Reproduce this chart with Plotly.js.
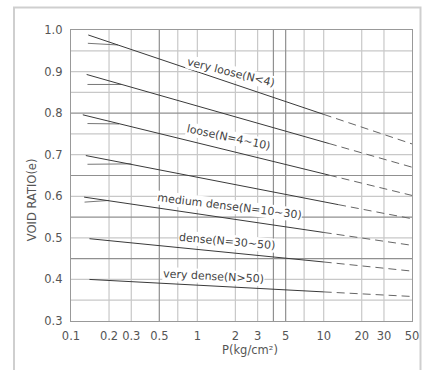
<!DOCTYPE html>
<html>
<head>
<meta charset="utf-8">
<script src="https://cdn.plot.ly/plotly-3.0.1.min.js"></script>
<style>html,body{margin:0;padding:0;background:#fff;}#chart{width:434px;height:370px;}</style>
</head>
<body>
<div id="chart"></div>
<script>
// ---- data ----
var xTickVals = [0.1, 0.2, 0.3, 0.5, 1, 2, 3, 5, 10, 20, 30, 50];
var xTickText = ['0.1', '0.2', '0.3', '0.5', '1', '2', '3', '5', '10', '20', '30', '50'];
var yTickVals = [0.3, 0.4, 0.5, 0.6, 0.7, 0.8, 0.9, 1.0];
var xGridLight = [0.2, 0.3, 0.7, 1, 2, 3, 7, 10, 20, 30];
var xGridDark = [0.5, 4, 5];
var yGridLight = [0.35, 0.4, 0.5, 0.6, 0.7, 0.75, 0.85, 0.9, 0.95];
var yGridDark = [0.45, 0.55, 0.65, 0.8];

// main curves: start P, break P (end of solid part), end P
var startP = [0.137, 0.133, 0.124, 0.131, 0.127, 0.140, 0.140];
var startE = [0.988, 0.893, 0.796, 0.698, 0.598, 0.498, 0.400];
var breakP = [10, 11, 11, 13, 10, 10, 10];
var breakE = [0.797, 0.727, 0.651, 0.580, 0.513, 0.442, 0.370];
var endP = [50, 50, 50, 50, 50, 50, 50];
var endE = [0.726, 0.670, 0.602, 0.546, 0.482, 0.420, 0.359];

// short branch lines near the start
var branchP0 = [0.136, 0.135, 0.135, 0.135, 0.128];
var branchE0 = [0.968, 0.869, 0.775, 0.677, 0.586];
var branchP1 = [0.235, 0.25, 0.24, 0.30, 0.20];
var branchE1 = [0.964, 0.869, 0.774, 0.678, 0.590];

// labels
var labelText = ['very loose(N<4)', 'loose(N=4~10)', 'medium dense(N=10~30)', 'dense(N=30~50)', 'very dense(N>50)'];
var labelP = [1.84, 1.77, 1.81, 1.71, 1.35];
var labelE = [0.898, 0.742, 0.576, 0.492, 0.407];
var labelAngle = [14, 12, 7, 5, 3];

// ---- traces ----
var traces = [];
function vline(v, color) {
  traces.push({x: [v, v], y: [0.3, 1.0], mode: 'lines', line: {color: color, width: 1.2}, hoverinfo: 'skip', showlegend: false});
}
function hline(v, color) {
  traces.push({x: [0.1, 50], y: [v, v], mode: 'lines', line: {color: color, width: 1.2}, hoverinfo: 'skip', showlegend: false});
}
xGridLight.forEach(function (v) { vline(v, '#c8c8c8'); });
yGridLight.forEach(function (v) { hline(v, '#c8c8c8'); });
xGridDark.forEach(function (v) { vline(v, '#909090'); });
yGridDark.forEach(function (v) { hline(v, '#909090'); });

for (var i = 0; i < branchP0.length; i++) {
  traces.push({x: [branchP0[i], branchP1[i]], y: [branchE0[i], branchE1[i]], mode: 'lines',
    line: {color: '#777', width: 1}, hoverinfo: 'skip', showlegend: false});
}
for (var j = 0; j < startP.length; j++) {
  traces.push({x: [startP[j], breakP[j]], y: [startE[j], breakE[j]], mode: 'lines',
    line: {color: '#3a3a3a', width: 1}, showlegend: false});
  traces.push({x: [breakP[j], endP[j]], y: [breakE[j], endE[j]], mode: 'lines',
    line: {color: '#666', width: 1, dash: '8px,5px'}, showlegend: false});
}

// plot-area pixel box, used to place the two axis titles
var L = 71, R = 412, T = 29.5, B = 321;
function px2paperX(px) { return (px - L) / (R - L); }
function px2paperY(py) { return (B - py) / (B - T); }

var annotations = labelText.map(function (t, k) {
  return {x: Math.log10(labelP[k]), y: labelE[k], xref: 'x', yref: 'y', text: t, showarrow: false,
    xanchor: 'center', yanchor: 'middle',
    textangle: labelAngle[k], bgcolor: '#ffffff', borderpad: 0,
    font: {family: 'DejaVu Sans', size: 11, color: '#444'}};
});
annotations.push({x: px2paperX(250), y: px2paperY(350), xref: 'paper', yref: 'paper', text: 'P(kg/cm²)',
  showarrow: false, xanchor: 'center', yanchor: 'middle',
  font: {family: 'DejaVu Sans', size: 11.5, color: '#555'}});
annotations.push({x: px2paperX(32), y: px2paperY(200), xref: 'paper', yref: 'paper', text: 'VOID RATIO(e)',
  showarrow: false, xanchor: 'center', yanchor: 'middle',
  textangle: -90, font: {family: 'DejaVu Sans', size: 11.5, color: '#555'}});

var layout = {
  width: 434, height: 370,
  margin: {l: 71, r: 22, t: 29.5, b: 49, pad: 0},
  paper_bgcolor: '#fff', plot_bgcolor: '#fff',
  showlegend: false,
  xaxis: {type: 'log', range: [-1, Math.log10(50)], tickvals: xTickVals, ticktext: xTickText,
    showgrid: false, zeroline: false, showline: true, mirror: true, linecolor: '#999', linewidth: 1.2,
    ticks: '', ticklabelstandoff: 4, tickfont: {family: 'DejaVu Sans', size: 11.5, color: '#555'}},
  yaxis: {range: [0.3, 1.0], tickvals: yTickVals, tickformat: '.1f',
    showgrid: false, zeroline: false, showline: true, mirror: true, linecolor: '#999', linewidth: 1.2,
    ticks: '', ticklabelstandoff: 5, tickfont: {family: 'DejaVu Sans', size: 11.5, color: '#555'}},
  annotations: annotations,
  shapes: [{type: 'rect', xref: 'paper', yref: 'paper',
    x0: px2paperX(14), x1: px2paperX(420.5), y0: px2paperY(380), y1: px2paperY(7),
    line: {color: '#cfcfcf', width: 2}, fillcolor: 'rgba(0,0,0,0)', layer: 'below'}]
};

Plotly.newPlot('chart', traces, layout, {staticPlot: true, displayModeBar: false});
</script>
</body>
</html>
